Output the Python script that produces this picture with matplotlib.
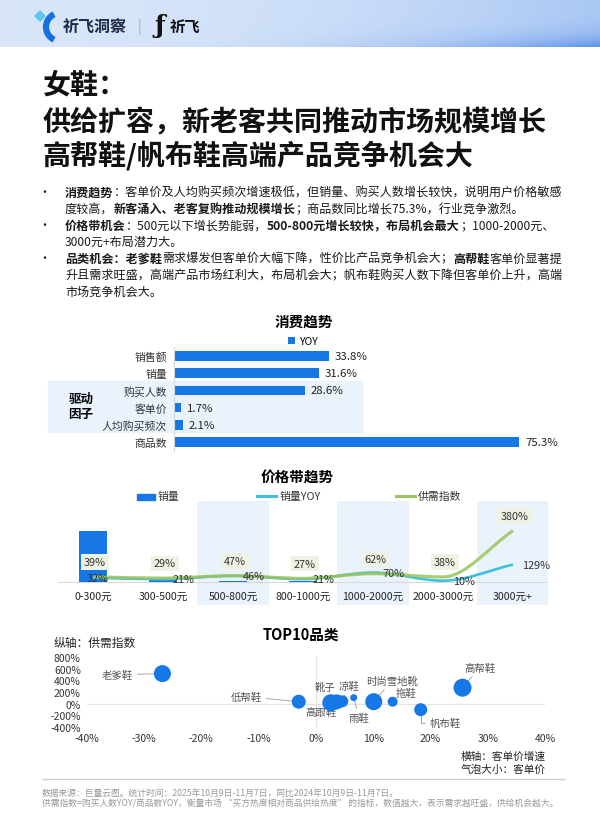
import numpy as np
import matplotlib
matplotlib.use('Agg')
import matplotlib.pyplot as plt
from matplotlib.path import Path
from matplotlib.patches import PathPatch, Rectangle, Polygon, Arc

plt.rcParams['font.family'] = ['Noto Sans CJK SC', 'DejaVu Sans']

W, H = 600, 828
BLUE = '#1677E6'
CYAN = '#3CC3D9'
GREEN = '#9DC45F'
BAND = '#EAF2FC'

# 消费趋势
trend_cats = ['销售额', '销量', '购买人数', '客单价', '人均购买频次', '商品数']
trend_yoy = [33.8, 31.6, 28.6, 1.7, 2.1, 75.3]

# 价格带趋势
price_bands = ['0-300元', '300-500元', '500-800元', '800-1000元',
               '1000-2000元', '2000-3000元', '3000元+']
band_sales = [88, 4, 1.5, 1, 0.8, 0.4, 0.2]
band_sales_yoy = [32, 21, 46, 21, 70, 10, 129]
band_supply_idx = [39, 29, 47, 27, 62, 38, 380]

# TOP10品类
cat_names = ['老爹鞋', '低帮鞋', '高跟鞋', '靴子', '凉鞋', '雨鞋',
             '时尚雪地靴', '拖鞋', '帆布鞋', '高帮鞋']
cat_price_growth = [-26.8, -3.0, 2.6, 3.6, 4.6, 6.6, 10.1, 13.4, 18.3, 25.6]
cat_supply_idx = [515, 34, 15, 30, 40, 103, 34, 34, -103, 274]
cat_unit_price = [290, 196, 290, 225, 144, 49, 290, 100, 169, 324]

fig = plt.figure(figsize=(6, 8.28), dpi=100)
bg = fig.add_axes([0, 0, 1, 1])
bg.axis('off')


def px_axes(x0, y0, x1, y1):
    a = fig.add_axes([x0 / W, 1 - y1 / H, (x1 - x0) / W, (y1 - y0) / H])
    a.patch.set_alpha(0)
    return a


# 顶部渐变条
gx, gy = np.meshgrid(np.linspace(0, 1, 300), np.linspace(0, 1, 24))
a = np.clip(0.14 + 0.35 * gx ** 2 + 0.55 * gy ** 4 * gx ** 3, 0, 1)[..., None]
c0 = np.array([0.92, 0.95, 0.99])
c1 = np.array([0.40, 0.60, 0.92])
bg.imshow(c0 * (1 - a) + c1 * a, extent=(0, W, 48, 0), aspect='auto', zorder=0)
bg.set_xlim(0, W)
bg.set_ylim(H, 0)

bg.add_patch(Polygon([[35, 17], [40, 12], [45, 17], [40, 22]], closed=True, color='#5cc8f0'))
bg.add_patch(Arc((60, 28), 28, 28, theta1=115, theta2=245, lw=4.5, color='#1a6fe0'))
bg.text(63, 27, '祈飞洞察', fontsize=11.5, fontweight='bold', color='#1f2a44', va='center')
bg.text(139, 27, '|', fontsize=10, color='#aaaaaa', va='center', ha='center')
bg.text(160, 26, 'ƒ', fontsize=18, fontweight='bold', color='#111', va='center', ha='center',
        family='DejaVu Serif')
bg.text(170, 27, '祈飞', fontsize=11, fontweight='bold', color='#111', va='center')

# 标题
for y, s in zip([85, 123, 156], ['女鞋：', '供给扩容，新老客共同推动市场规模增长',
                                 '高帮鞋/帆布鞋高端产品竞争机会大']):
    bg.text(43, y, s, fontsize=20.2, fontweight='bold', color='#111', va='center')

# 要点
bullet_lines = [
    [('消费趋势', 1), ('：客单价及人均购买频次增速极低，但销量、购买人数增长较快，说明用户价格敏感', 0)],
    [('度较高，', 0), ('新客涌入、老客复购推动规模增长', 1), ('；商品数同比增长75.3%，行业竞争激烈。', 0)],
    [('价格带机会', 1), ('：500元以下增长势能弱，', 0), ('500-800元增长较快，布局机会最大', 1),
     ('；1000-2000元、', 0)],
    [('3000元+布局潜力大。', 0)],
    [('品类机会：老爹鞋', 1), ('需求爆发但客单价大幅下降，性价比产品竞争机会大；', 0), ('高帮鞋', 1),
     ('客单价显著提', 0)],
    [('升且需求旺盛，高端产品市场红利大，布局机会大；帆布鞋购买人数下降但客单价上升，高端', 0)],
    [('市场竞争机会大。', 0)],
]
rend = fig.canvas.get_renderer()
for k, parts in enumerate(bullet_lines):
    y = 193 + 16.5 * k
    if k in (0, 2, 4):
        bg.text(44, y, '•', fontsize=8.7, color='#222', va='center', ha='center')
    x = 65
    for s, b in parts:
        t = bg.text(x, y, s, fontsize=8.7, fontweight='bold' if b else 'normal',
                    color='#1a1a1a', va='center')
        x += t.get_window_extent(renderer=rend).width

# ---- 消费趋势 ----
bg.text(304, 322, '消费趋势', fontsize=10.5, fontweight='bold', ha='center', va='center')
bg.add_patch(Rectangle((48, 382), 362 - 48, 433 - 382, color=BAND, zorder=0.5))
bg.text(81, 399, '驱动', fontsize=9, fontweight='bold', ha='center', va='center')
bg.text(81, 414, '因子', fontsize=9, fontweight='bold', ha='center', va='center')

ax1 = px_axes(173.5, 348, 560, 452)
ax1.barh(range(len(trend_cats)), trend_yoy, height=0.55, color=BLUE, label='YOY')
for i, v in enumerate(trend_yoy):
    ax1.text(v + 1.3, i, f'{v}%', va='center', fontsize=8.2, color='#222')
ax1.set_xlim(0, 84.2)
ax1.set_ylim(5.52, -0.52)
ax1.set_yticks(range(len(trend_cats)))
ax1.set_yticklabels(trend_cats, fontsize=7.8, color='#333')
ax1.set_xticks([])
ax1.tick_params(length=0, pad=4.5)
for sp in ['top', 'right', 'bottom']:
    ax1.spines[sp].set_visible(False)
ax1.spines['left'].set_color('#d5d5d5')
ax1.spines['left'].set_linewidth(0.8)
ax1.legend(loc='center', bbox_to_anchor=(0.335, 1.058), frameon=False, fontsize=7.5,
           handlelength=0.6, handleheight=0.6, handletextpad=0.4)

# ---- 价格带趋势 ----
bg.text(297, 478, '价格带趋势', fontsize=10.5, fontweight='bold', ha='center', va='center')
bg.add_patch(Rectangle((137, 494.5), 18, 6, color=BLUE))
bg.text(158, 497, '销量', fontsize=7.8, color='#333', va='center')
bg.plot([257, 276], [497, 497], color=CYAN, lw=2.2)
bg.text(280, 497, '销量YOY', fontsize=7.8, color='#333', va='center')
bg.plot([396, 415], [497, 497], color=GREEN, lw=2.2)
bg.text(418, 497, '供需指数', fontsize=7.8, color='#333', va='center')

ax2 = px_axes(58, 502, 548, 606)
xs = np.arange(len(price_bands))
for i in (2, 4, 6):
    ax2.axvspan(i - 0.51, i + 0.51, color=BAND, lw=0, zorder=0)
ax2.bar(xs, band_sales, width=0.39, color=BLUE, zorder=2)
ax2.axhline(0, color='#d9d9d9', lw=0.8, zorder=1)
ax2.set_xlim(-0.5, 6.5)
ax2.set_ylim(-39.7, 139.8)
for i, lab in enumerate(price_bands):
    ax2.text(i, 0.087, lab, transform=ax2.get_xaxis_transform(), ha='center', va='center',
             fontsize=7.6, color='#222')
ax2.axis('off')

ax3 = ax2.twinx()
ax3.set_ylim(-170, 600)
ax3.axis('off')


def smooth_path(xv, yv):
    xv = np.asarray(xv, float)
    yv = np.asarray(yv, float)
    d = np.diff(yv) / np.diff(xv)
    m = np.zeros_like(yv)
    m[0], m[-1] = d[0], d[-1]
    for j in range(1, len(yv) - 1):
        m[j] = 0 if d[j - 1] * d[j] <= 0 else (d[j - 1] + d[j]) / 2
    verts = [(xv[0], yv[0])]
    codes = [Path.MOVETO]
    for j in range(len(xv) - 1):
        h = xv[j + 1] - xv[j]
        verts += [(xv[j] + h / 3, yv[j] + m[j] * h / 3),
                  (xv[j + 1] - h / 3, yv[j + 1] - m[j + 1] * h / 3),
                  (xv[j + 1], yv[j + 1])]
        codes += [Path.CURVE4] * 3
    return Path(verts, codes)


ax3.add_patch(PathPatch(smooth_path(xs, band_sales_yoy), fill=False, ec=CYAN, lw=1.9, zorder=3))
ax3.add_patch(PathPatch(smooth_path(xs, band_supply_idx), fill=False, ec=GREEN, lw=2.3,
                        alpha=0.85, zorder=4))
for i, v in enumerate(band_supply_idx):
    ax3.annotate(f'{v}%', (i, v), xytext=(1.4, 10.6), textcoords='offset points',
                 ha='center', va='center', fontsize=7.8, color='#333', zorder=6,
                 bbox=dict(boxstyle='square,pad=0.25', fc='#EEF2E3', ec='none'))
for i, v in enumerate(band_sales_yoy):
    if i == 0:
        dx, ha = 3, 'center'
    elif i == len(band_sales_yoy) - 1:
        dx, ha = 6.5, 'left'
    else:
        dx, ha = 15, 'center'
    ax3.annotate(f'{v}%', (i, v), xytext=(dx, 0), textcoords='offset points',
                 ha=ha, va='center', fontsize=7.8, color='#333', zorder=6)

# ---- TOP10品类 ----
bg.text(301, 635, 'TOP10品类', fontsize=10.5, fontweight='bold', ha='center', va='center')
bg.text(54, 643, '纵轴：供需指数', fontsize=8.5, color='#222', va='center')
bg.text(546, 757, '横轴：客单价增速', fontsize=7.7, color='#222', va='center', ha='right')
bg.text(546, 770, '气泡大小：客单价', fontsize=7.7, color='#222', va='center', ha='right')

ax4 = px_axes(86.8, 658, 545, 728)
ax4.axhline(0, color='#e3e3e3', lw=0.9, zorder=1)
ax4.axvline(0, color='#e3e3e3', lw=0.9, zorder=1)
ax4.scatter(cat_price_growth, cat_supply_idx, s=np.array(cat_unit_price) * 0.518,
            color=BLUE, ec='none', zorder=4, clip_on=False)
ax4.set_xlim(-40, 40)
ax4.set_ylim(-400, 800)
ax4.set_xticks(range(-40, 41, 10))
ax4.set_xticklabels([f'{v}%' for v in range(-40, 41, 10)])
ax4.set_yticks(range(-400, 801, 200))
ax4.set_yticklabels([f'{v}%' for v in range(-400, 801, 200)])
ax4.tick_params(length=0, labelsize=7.5, pad=4.3, colors='#333')
for sp in ax4.spines.values():
    sp.set_visible(False)

label_pos = {
    '老爹鞋': (-31.9, 497, 'right'),
    '低帮鞋': (-9.4, 120, 'right'),
    '高跟鞋': (0.8, -140, 'center'),
    '靴子': (1.6, 292, 'center'),
    '凉鞋': (5.8, 309, 'center'),
    '雨鞋': (7.5, -240, 'center'),
    '时尚雪地靴': (13.3, 395, 'center'),
    '拖鞋': (15.7, 189, 'center'),
    '帆布鞋': (22.5, -326, 'center'),
    '高帮鞋': (28.6, 617, 'center'),
}
for name, gxv, gyv in zip(cat_names, cat_price_growth, cat_supply_idx):
    lx, ly, ha = label_pos[name]
    conn = 'angle,angleA=180,angleB=90,rad=0' if name == '帆布鞋' else 'arc3'
    ax4.annotate(name, (gxv, gyv), xytext=(lx, ly), textcoords='data', ha=ha, va='center',
                 fontsize=7.5, color='#555', zorder=3, annotation_clip=False,
                 arrowprops=dict(arrowstyle='-', color='#9a9a9a', lw=0.6, shrinkA=1,
                                 shrinkB=0, connectionstyle=conn))

# ---- 页脚 ----
bg.plot([42, 565], [780, 780], color='#cfcfcf', lw=1)
bg.text(42, 793, '数据来源：巨量云图。统计时间：2025年10月9日-11月7日，同比2024年10月9日-11月7日。',
        fontsize=6.3, color='#999', va='center')
bg.text(42, 804, '供需指数=购买人数YOY/商品数YOY，衡量市场 “买方热度相对商品供给热度” 的指标，'
        '数值越大，表示需求越旺盛，供给机会越大。', fontsize=6.3, color='#999', va='center')

fig.savefig('out.png', dpi=100)
